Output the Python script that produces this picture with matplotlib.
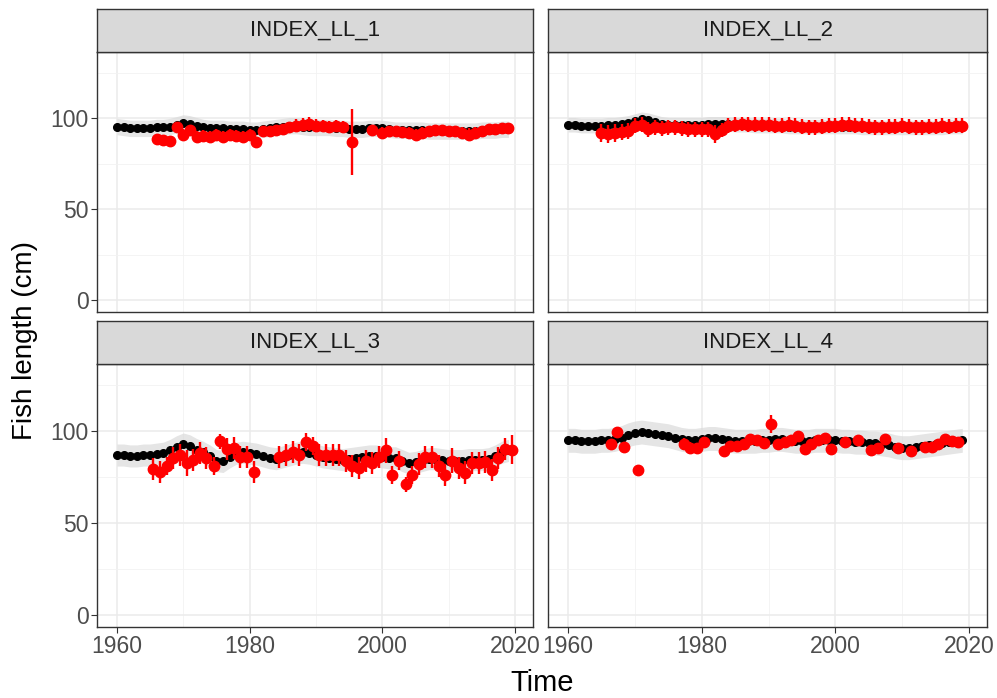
import numpy as np
import matplotlib.pyplot as plt

plt.rcParams['font.family'] = ['Liberation Sans', 'DejaVu Sans']

fleets = ["INDEX_LL_1", "INDEX_LL_2", "INDEX_LL_3", "INDEX_LL_4"]

# expected mean length (black), one value per year
exp_years = np.arange(1960, 2020)
exp_ll1 = [95.5, 95, 94.5, 94.5, 94.5, 94.5, 95, 95, 95.5, 96.5,
           97.5, 97, 96, 95, 94.5, 94.5, 94.5, 94, 94, 94,
           93.5, 93.5, 94, 94.5, 95, 95.5, 96, 96, 95.5, 95,
           95, 95, 95, 94.5, 94.5, 94, 94, 94, 94.5, 94.5,
           94.5, 94, 93.5, 93.5, 93.5, 93.5, 93.5, 93, 93, 93,
           93, 93, 93, 93, 93, 93.5, 93.5, 93.5, 94, 94]
exp_ll2 = [96.5, 96.5, 96, 96, 96, 96, 96.5, 96.5, 97, 97.5,
           98.5, 99.5, 99, 98, 97, 96.5, 96.5, 96.5, 96.5, 96.5,
           96.5, 97, 97, 97, 97, 96.5, 96.5, 96.5, 96, 96,
           96, 96, 96, 95.5, 95.5, 95.5, 95.5, 95.5, 95.5, 95.5,
           95.5, 95.5, 95.5, 95.5, 95, 95, 95, 95, 95, 95,
           95, 95, 95, 95, 95, 95, 95, 95.5, 95.5, 95.5]
exp_ll3 = [87, 87, 86.5, 86.5, 87, 87, 87.5, 88, 89.5, 91.5,
           93, 92, 90, 88.5, 86.5, 84, 83.5, 86, 88, 88.5,
           88, 87.5, 86.5, 85.5, 85, 86, 87, 88, 88.5, 88,
           87, 86, 85.5, 85, 84.5, 85, 85.5, 86, 86.5, 86.5,
           86, 85.5, 85.5, 84, 82.5, 83, 84, 85, 85, 84.5,
           84, 84, 84, 84.5, 84.5, 84.5, 85, 86.5, 88.5, 89.5]
exp_ll4 = [95, 95, 94.5, 94.5, 94.5, 95, 95, 95.5, 96.5, 98,
           99, 99.5, 99, 98.5, 98, 97.5, 96.5, 95.5, 95, 95,
           95.5, 96, 96, 95.5, 95, 94.5, 94.5, 94.5, 94.5, 95,
           95, 95.5, 95.5, 95, 94.5, 94.5, 94.5, 95, 95, 95,
           95, 94.5, 94.5, 94, 94, 93.5, 93.5, 93, 92.5, 91.5,
           91, 91, 91.5, 92, 92.5, 93, 93.5, 94, 94.5, 95]
band_half = [4.5, 4, 6, 6.5]

# observed mean length (red) with error half-widths
obs_years_ll1 = [1966, 1967, 1968, 1969, 1970, 1971, 1972, 1973, 1974, 1975,
                 1976, 1977, 1978, 1979, 1980, 1981, 1982, 1983, 1984, 1985,
                 1986, 1987, 1988, 1989, 1990, 1991, 1992, 1993, 1994, 1995.5,
                 1998.5, 2000, 2001, 2002, 2003, 2004, 2005, 2006, 2007, 2008,
                 2009, 2010, 2011, 2012, 2013, 2014, 2015, 2016, 2017, 2018, 2019]
obs_ll1 = [88.5, 88, 87.5, 95, 91, 93.5, 90, 90.5, 90, 91,
           90, 91, 90.5, 90, 91, 87, 93, 93, 93.5, 94,
           95, 96, 96.5, 97, 96, 96, 95.5, 96, 95.5, 87,
           93.5, 92, 93, 93, 92.5, 92, 91, 92, 93, 93.5,
           93.5, 93, 93, 92, 91, 92, 93, 94, 94, 94.5, 94.5]
err_ll1 = [2, 2, 3, 3, 3, 3, 3, 3, 3, 3,
           3, 3, 3, 3, 3, 3, 3, 3, 3, 3,
           3, 3.5, 3.5, 4, 3.5, 3, 3, 3, 3, 18,
           3, 3, 3, 3, 3, 3, 3, 3, 3, 3,
           3, 3, 3, 3, 3.5, 3, 3, 3, 3, 3, 3]

obs_years_ll2 = list(range(1965, 2020))
obs_ll2 = [92, 91.5, 92, 92.5, 93, 96, 96.5, 94, 95, 94.5,
           95, 95, 94.5, 94, 94, 94, 94, 91.5, 93.5, 96,
           96.5, 97, 96.5, 96.5, 96.5, 96.5, 96, 96, 96.5, 96,
           95.5, 95, 95, 95.5, 96, 96, 96.5, 96.5, 96, 96,
           95.5, 95, 95, 95.5, 95.5, 96, 95.5, 95, 95, 95.5,
           95.5, 96, 95.5, 96, 96]
err_ll2 = [5, 5, 5, 4.5, 4.5, 4, 4, 4, 4, 4,
           4, 4, 4, 4, 4, 4, 4, 5, 4, 4,
           4, 4, 4, 4, 4, 4, 4, 4, 4, 4,
           4, 4, 4, 4, 4, 4, 4, 4, 4, 4,
           4, 4, 4, 4, 4, 4, 4, 4, 4, 4,
           4, 4, 4, 4, 4]

obs_years_ll3 = [1965.5, 1966.5, 1967.5, 1968.5, 1969.5, 1970.5, 1971.5, 1972.5,
                 1973.5, 1974.6, 1975.6, 1976.6, 1977.6, 1978.6, 1979.6, 1980.6,
                 1984.5, 1985.5, 1986.5, 1987.5, 1988.5, 1989.5, 1990.5, 1991.5,
                 1992.5, 1993.5, 1994.5, 1995.5, 1996.5, 1997.5, 1998.5, 1999.5,
                 2000.5, 2001.5, 2002.5, 2003.5, 2004.5, 2005.5, 2006.5, 2007.5,
                 2008.5, 2009.5, 2010.5, 2011.5, 2012.5, 2013.5, 2014.5, 2015.5,
                 2016.5, 2017.5, 2018.5, 2019.5]
obs_ll3 = [79.5, 78, 81, 85.5, 87, 82.5, 84.5, 88,
           85.5, 81, 94.5, 90.5, 91, 86, 86, 78,
           86, 87, 88.5, 87, 94, 92, 87, 87,
           87, 87, 84, 81, 80, 84, 82.5, 86,
           89.5, 76, 84, 71, 76, 82, 86, 86,
           81, 76, 84, 80, 77.5, 82.5, 82.5, 83,
           79, 85.5, 90.5, 90]
err_ll3 = [6, 6, 5, 6, 6, 7, 6, 6,
           6, 5, 4, 6, 6, 6, 6, 6,
           6, 6, 6, 6, 5, 5, 6, 6,
           6, 6, 6, 6, 6, 6, 6, 6,
           7, 5, 5, 4, 5, 6, 6, 6,
           6, 6, 7, 6, 6, 6, 6, 6,
           6, 6, 6, 8]

obs_years_ll4 = [1966.4, 1967.4, 1968.4, 1970.4, 1977.3, 1978.3, 1979.3, 1980.3,
                 1983.3, 1984.3, 1985.3, 1986.3, 1987.3, 1988.3, 1989.3, 1990.4,
                 1991.4, 1992.4, 1993.4, 1994.4, 1995.4, 1996.4, 1997.4, 1998.4,
                 1999.4, 2001.4, 2003.4, 2005.4, 2006.4, 2007.4, 2009.4, 2011.4,
                 2013.4, 2014.4, 2015.4, 2016.4, 2017.4, 2018.4]
obs_ll4 = [93, 99.5, 91.5, 79, 93, 91, 91, 94,
           89, 92, 92, 93, 95.5, 95, 93.5, 104,
           93, 94, 95, 97.5, 90.5, 93, 95, 96,
           90.5, 94, 95, 89.5, 91, 95.5, 91, 89,
           91.5, 91.5, 93, 95.5, 94.5, 94]
err_ll4 = [1.5, 2, 1.5, 2.5, 3, 3, 2, 2,
           2, 2, 2, 2, 2, 2, 2, 5,
           2, 2, 2, 2, 2, 2, 2, 2,
           2, 2, 2, 3, 2, 2, 2, 2,
           2, 2, 2, 2, 2, 2]

exp_all = [exp_ll1, exp_ll2, exp_ll3, exp_ll4]
obs_all = [(obs_years_ll1, obs_ll1, err_ll1), (obs_years_ll2, obs_ll2, err_ll2),
           (obs_years_ll3, obs_ll3, err_ll3), (obs_years_ll4, obs_ll4, err_ll4)]

W, H = 997, 698
fig = plt.figure(figsize=(W / 100, H / 100), dpi=100)

# panel boxes in pixels: left, right, strip top, plot top, plot bottom
cols = [(97, 533), (548, 987)]
rows = [(9, 52, 312), (321, 364, 627)]

grey = "#4D4D4D"
for i, name in enumerate(fleets):
    r, c = divmod(i, 2)
    x0, x1 = cols[c]
    st, pt, pb = rows[r]
    ax = fig.add_axes([x0 / W, 1 - pb / H, (x1 - x0) / W, (pb - pt) / H])
    sax = fig.add_axes([x0 / W, 1 - pt / H, (x1 - x0) / W, (pt - st) / H])

    # strip
    sax.set_facecolor("#D9D9D9")
    sax.set_xticks([])
    sax.set_yticks([])
    for sp in sax.spines.values():
        sp.set_color("#333333")
        sp.set_linewidth(1.0)
    sax.text(0.5, 0.5, name, ha="center", va="center", fontsize=16,
             color="#1A1A1A", transform=sax.transAxes)

    e = np.array(exp_all[i])
    ax.fill_between(exp_years, e - band_half[i], e + band_half[i],
                    color="#DADADA", alpha=0.7, lw=0, zorder=1)
    ax.plot(exp_years, e, "o", color="black", ms=5.5, zorder=3)
    oy, ov, oe = obs_all[i]
    ax.errorbar(oy, ov, yerr=oe, fmt="o", color="#FF0000", ms=7.5,
                elinewidth=1.7, capsize=0, zorder=4)

    ax.set_xlim(1957.0, 2022.7)
    ax.set_ylim(-6.5, 136.5)
    ax.set_xticks([1960, 1980, 2000, 2020])
    ax.set_xticks([1970, 1990, 2010], minor=True)
    ax.set_yticks([0, 50, 100])
    ax.set_yticks([25, 75, 125], minor=True)
    ax.grid(which="major", color="#EBEBEB", lw=1.1, zorder=0)
    ax.grid(which="minor", color="#F2F2F2", lw=0.6, zorder=0)
    ax.set_axisbelow(True)
    for sp in ax.spines.values():
        sp.set_color("#333333")
        sp.set_linewidth(1.0)
    ax.tick_params(which="minor", length=0)
    ax.tick_params(which="major", length=4, color="#333333", labelsize=16.5,
                   labelcolor=grey, pad=2)
    if c == 1:
        ax.tick_params(axis="y", which="both", left=False, labelleft=False)
    if r == 0:
        ax.tick_params(axis="x", which="both", bottom=False, labelbottom=False)

fig.text(25 / W, 1 - 340 / H, "Fish length (cm)", rotation=90, ha="center",
         va="center", fontsize=20)
fig.text(542 / W, 1 - 683 / H, "Time", ha="center", va="center", fontsize=21)

fig.savefig("out.png", dpi=100)
